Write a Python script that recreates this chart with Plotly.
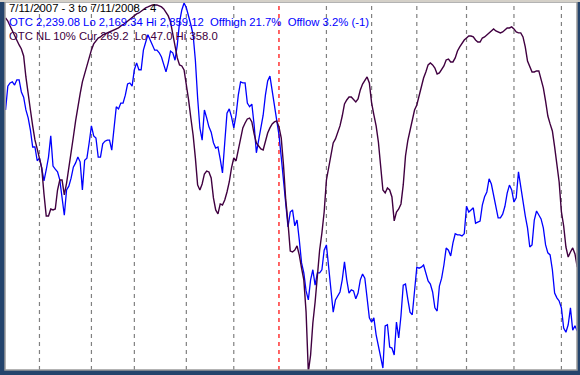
import pandas as pd
import plotly.graph_objects as go

# ---- data -------------------------------------------------------------
holidays = ["2007-09-03", "2007-11-22", "2007-12-25", "2008-01-01", "2008-01-21",
            "2008-02-18", "2008-03-21", "2008-05-26", "2008-07-04"]
dates = [d for d in pd.bdate_range("2007-07-11", "2008-07-11")
         if d.strftime("%Y-%m-%d") not in holidays]

otc = [2657, 2702, 2708, 2710, 2704, 2714, 2714, 2691, 2681, 2657,
       2642, 2619, 2587, 2587, 2561, 2566, 2547, 2523, 2544, 2568,
       2608, 2551, 2545, 2540, 2525, 2487, 2458, 2506, 2513, 2528,
       2549, 2557, 2568, 2559, 2506, 2562, 2566, 2595, 2627, 2608,
       2604, 2568, 2568, 2593, 2598, 2600, 2600, 2581, 2629, 2663,
       2659, 2670, 2670, 2685, 2706, 2708, 2702, 2733, 2746, 2733,
       2733, 2770, 2785, 2799, 2789, 2778, 2770, 2770, 2765, 2757,
       2742, 2729, 2746, 2768, 2765, 2751, 2780, 2823, 2846, 2859.12,
       2850, 2836, 2818, 2799, 2751, 2680, 2623, 2600, 2657, 2642,
       2625, 2615, 2595, 2585, 2587, 2564, 2538, 2595, 2651, 2659,
       2644, 2623, 2647, 2685, 2710, 2708, 2708, 2670, 2663, 2668,
       2629, 2576, 2600, 2617, 2647, 2685, 2712, 2721, 2691, 2661,
       2636, 2610, 2568, 2525, 2487, 2436, 2464, 2468, 2438, 2449,
       2411, 2368, 2349, 2315, 2298, 2336, 2355, 2326, 2349, 2349,
       2355, 2392, 2402, 2355, 2317, 2275, 2298, 2307, 2313, 2336,
       2370, 2336, 2311, 2317, 2315, 2300, 2311, 2336, 2347, 2339,
       2302, 2264, 2256, 2264, 2232, 2213, 2194, 2169.34, 2249, 2251,
       2209, 2207, 2194, 2256, 2226, 2268, 2326, 2328, 2300, 2275,
       2270, 2311, 2360, 2358, 2360, 2364, 2351, 2334, 2328, 2313,
       2283, 2277, 2324, 2339, 2364, 2396, 2392, 2381, 2406, 2423,
       2421, 2421, 2419, 2423, 2475, 2464, 2468, 2472, 2443, 2445,
       2447, 2477, 2493, 2502, 2527, 2517, 2496, 2477, 2453, 2453,
       2460, 2475, 2500, 2515, 2506, 2483, 2491, 2540, 2510, 2477,
       2457, 2434, 2398, 2402, 2449, 2466, 2458, 2451, 2434, 2402,
       2387, 2383, 2355, 2311, 2302, 2296, 2283, 2245, 2237, 2251,
       2283, 2241, 2249, 2239.08]

otc_nl = [58.0, 60.6, 64.8, 69.0, 73.3, 77.5, 80.9, 84.3, 90.2, 108.0,
          124.1, 136.0, 149.5, 161.4, 169.0, 178.3, 185.1, 207.2, 225.8, 225.8,
          219.9, 220.7, 219.9, 203.8, 195.3, 195.3, 208.0, 197.9, 183.4, 173.3,
          158.9, 145.3, 131.7, 122.4, 112.2, 105.5, 97.8, 90.2, 85.1, 80.0,
          77.5, 75.0, 74.1, 72.4, 71.6, 70.7, 69.9, 69.0, 68.2, 67.3,
          66.5, 64.8, 63.9, 62.3, 60.6, 59.7, 58.0, 56.3, 54.6, 53.8,
          52.1, 50.4, 49.5, 48.7, 47.8, 47.0, 47.0, 47.0, 47.8, 48.7,
          50.4, 52.9, 56.3, 61.4, 72.4, 83.4, 91.9, 97.8, 98.7, 102.1,
          113.1, 127.5, 142.8, 157.2, 176.6, 199.5, 203.8, 198.7, 190.2, 187.7,
          188.5, 193.6, 210.5, 220.7, 224.1, 215.6, 216.5, 212.2, 205.5, 197.0,
          185.1, 176.6, 179.2, 169.9, 158.9, 151.2, 147.0, 143.6, 142.8, 146.1,
          156.3, 163.9, 166.5, 169.0, 169.9, 163.1, 155.5, 151.2, 147.8, 146.1,
          145.3, 150.4, 159.7, 182.6, 212.2, 231.7, 255.5, 256.3, 254.6, 251.2,
          258.9, 269.9, 280.0, 307.2, 358.0, 343.6, 316.5, 298.7, 273.3, 254.6,
          240.2, 222.4, 195.3, 184.3, 171.6, 163.9, 160.5, 155.5, 149.5, 141.1,
          130.9, 127.5, 125.0, 125.0, 126.7, 129.2, 126.7, 119.0, 114.0, 110.6,
          108.0, 113.1, 130.0, 140.2, 149.5, 163.1, 186.8, 203.8, 206.3, 202.1,
          203.8, 209.7, 230.0, 222.4, 219.9, 215.6, 199.5, 175.0, 162.2, 153.8,
          143.6, 136.0, 131.7, 123.3, 117.3, 108.9, 103.8, 97.8, 96.1, 97.8,
          100.4, 105.5, 104.6, 101.2, 98.7, 93.6, 92.8, 95.3, 95.3, 91.9,
          86.0, 82.6, 79.2, 76.7, 75.0, 73.3, 73.3, 74.1, 76.7, 78.4,
          78.4, 75.0, 74.1, 72.4, 69.9, 69.0, 67.3, 69.0, 69.9, 70.7,
          69.9, 68.2, 66.5, 66.5, 65.6, 67.3, 69.9, 70.7, 70.7, 74.1,
          82.6, 94.5, 99.5, 103.8, 103.8, 102.9, 102.9, 109.7, 117.3, 128.4,
          141.1, 147.8, 153.8, 167.3, 181.7, 197.0, 222.4, 234.3, 252.1, 260.6,
          256.3, 252.9, 258.0, 269.2]

title_line = "7/11/2007 - 3 to 7/11/2008 - 4"
otc_line = ("OTC 2,239.08 Lo 2,169.34 Hi 2,859.12\u00a0\u00a0Offhigh 21.7%"
            "\u00a0\u00a0Offlow 3.2% (-1)")
nl_line = "OTC NL 10% Cur 269.2\u00a0\u00a0Lo 47.0 Hi 358.0"

# ---- figure -----------------------------------------------------------
idx = list(range(len(dates)))
month_starts = [i for i in idx[1:] if dates[i].month != dates[i - 1].month]
year_start = [i for i in month_starts if dates[i].month == 1]

BLUE = "#0000FF"
PURPLE = "#400040"
W, H = 580, 375
ML, MR, MT, MB = 5, 3, 2, 5

fig = go.Figure()
fig.add_trace(go.Scatter(x=idx, y=otc, mode="lines", yaxis="y",
                         line=dict(color=BLUE, width=1.3), hoverinfo="skip"))
fig.add_trace(go.Scatter(x=idx, y=otc_nl, mode="lines", yaxis="y2",
                         line=dict(color=PURPLE, width=1.4), hoverinfo="skip"))

shapes = []
for i in month_starts:
    col = "#FF0000" if i in year_start else "#808080"
    shapes.append(dict(type="line", xref="x", yref="paper", x0=i, x1=i, y0=0, y1=1,
                       line=dict(color=col, width=1.2, dash="4px,4px"), layer="below"))
# frame
shapes.append(dict(type="rect", xref="paper", yref="paper", x0=0, x1=1, y0=0, y1=1,
                   line=dict(color="#9A9A9A", width=1.5)))
shapes.append(dict(type="rect", xref="paper", yref="paper", x0=-0.01, x1=1.01,
                   y0=1.0, y1=1.01, line=dict(width=0), fillcolor="#D4D0C8"))

ph = H - MT - MB


def ypix(p):
    return 1 - (p - MT) / ph


ann = []
for txt, col, py in [(title_line, "#000000", 8.5), (otc_line, BLUE, 22.5), (nl_line, PURPLE, 36)]:
    ann.append(dict(text=txt, xref="paper", yref="paper", x=1.5 / (W - ML - MR), y=ypix(py),
                    xanchor="left", yanchor="middle", showarrow=False,
                    font=dict(family="Liberation Sans, Arial", size=11.3, color=col)))

fig.update_layout(
    width=W, height=H,
    margin=dict(l=ML, r=MR, t=MT, b=MB),
    paper_bgcolor="#24446C", plot_bgcolor="#FFFFFF",
    showlegend=False,
    xaxis=dict(range=[-0.25, 252.9], visible=False, fixedrange=True),
    yaxis=dict(range=[2165.56, 2861.0], visible=False),
    yaxis2=dict(range=[356.3, 44.5], overlaying="y", visible=False),
    shapes=shapes, annotations=ann,
)

fig.write_html("out.html")
